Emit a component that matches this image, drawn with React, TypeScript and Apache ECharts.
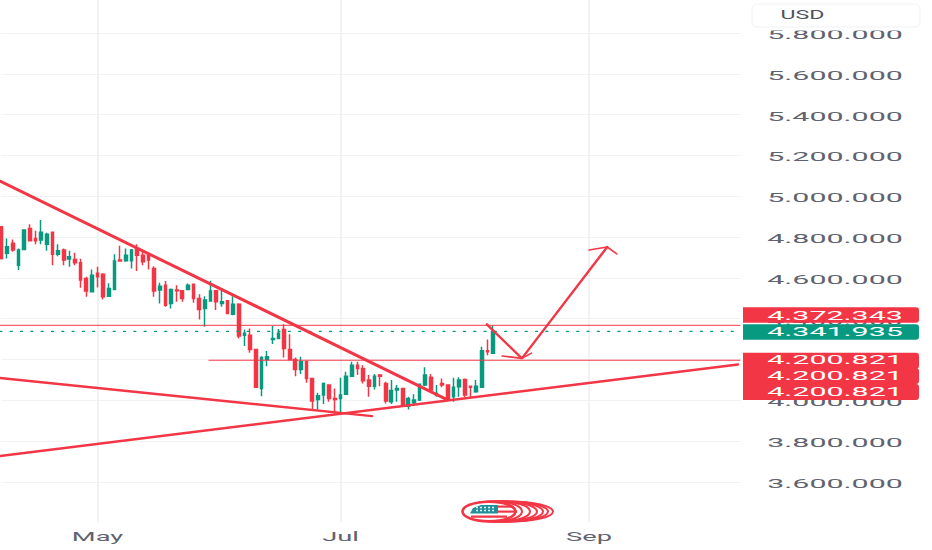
import React, { useEffect, useRef } from "react";
import * as echarts from "echarts";

const opens = [4850,4720,4769,4662,4739,4842,4793,4785,4765,4823,4715,4736,4692,4690,4674,4597,4532,4622,4618,4510,4543,4687,4684,4684,4744,4711,4711,4646,4540,4564,4474,4540,4537,4543,4568,4499,4450,4486,4537,4474,4488,4422,4471,4319,4319,4249,4058,4200,4298,4303,4347,4249,4200,4151,4189,4107,4004,4025,4074,4009,4009,4029,4118,4172,4156,4099,4069,4123,4082,3993,4050,4058,3971,3988,4001,4074,4112,4025,4082,4074,4017,4066,4102,4069,4042,4063,4243,4230];
const closes = [4695,4752,4736,4736,4834,4782,4782,4823,4814,4715,4733,4687,4703,4674,4589,4535,4613,4605,4507,4548,4682,4682,4711,4736,4711,4679,4687,4535,4559,4466,4543,4537,4499,4564,4499,4445,4491,4535,4483,4483,4425,4471,4315,4328,4249,4063,4210,4213,4303,4328,4254,4200,4151,4189,4107,3996,4022,4082,4009,4004,4025,4118,4172,4156,4095,4069,4118,4118,3996,4047,4058,3971,4009,4001,4078,4123,4050,4033,4074,4004,4063,4099,4025,4063,4069,4243,4238,4337];
const lows = [4690,4695,4728,4638,4739,4782,4765,4765,4733,4662,4706,4662,4654,4662,4551,4507,4532,4553,4494,4507,4540,4679,4679,4646,4633,4662,4641,4507,4474,4458,4450,4483,4483,4543,4478,4396,4360,4483,4442,4458,4422,4417,4303,4266,4233,4063,4020,4167,4275,4300,4210,4197,4118,4128,4086,3952,3955,3981,3993,3935,3935,4025,4118,4123,4082,4017,4053,4069,3984,3981,3993,3968,3955,3976,3996,4069,4042,4017,4063,4001,3993,4017,4014,4014,4037,4063,4221,4226];
const highs = [4850,4793,4788,4744,4837,4863,4831,4883,4821,4826,4764,4744,4733,4723,4693,4605,4641,4654,4622,4573,4716,4757,4744,4741,4765,4728,4720,4657,4576,4584,4548,4564,4540,4572,4572,4520,4510,4586,4540,4537,4491,4510,4475,4347,4352,4249,4216,4241,4364,4349,4373,4323,4210,4213,4192,4110,4037,4087,4078,4058,4110,4140,4189,4189,4172,4123,4128,4128,4091,4099,4074,4058,4017,4029,4082,4161,4128,4074,4107,4074,4110,4112,4107,4071,4099,4262,4298,4367];

const barCount = 132;
const categories = Array.from({ length: barCount }, (_, i) => String(i));
const monthIndexes = [17, 60, 104];
const monthLabels = ["May", "Jul", "Sep"];
const priceTicks = [5800, 5600, 5400, 5200, 5000, 4800, 4600, 4400, 4200, 4000, 3800, 3600];

const resistanceLine = [[-0.27, 5074], [78.85, 4003]];
const supportLine = [[-0.27, 3726], [130.35, 4175]];
const lowerLine = [[-0.27, 4109], [65.6, 3922]];
const levelLine = [[36.7, 4196], [130.7, 4196]];
const highLine = [[-0.27, 4367], [130.7, 4367]];
const lastLine = [[-0.27, 4337], [130.7, 4337]];
const arrowPath = [[85.9, 4372], [92.1, 4205], [107.2, 4751]];
const arrowHeadLow = [[88.6, 4217], [92.1, 4205], [93.8, 4231]];
const arrowHeadHigh = [[104, 4736], [107.2, 4751], [108.9, 4717]];

const redBoxes = ["4.372.343", "4.200.821", "4.200.821", "4.200.821"];
const greenBox = "4.341.935";
const RED = "#f23645";
const GREEN = "#089981";

const fmt = (v: number) => {
  const s = String(v);
  return `${s[0]}.${s.slice(1)}.000`;
};

const lineSeries = (data: number[][], width: number, color = RED, type: any = "solid", opacity = 1) => ({
  type: "line",
  xAxisIndex: 1,
  yAxisIndex: 0,
  data,
  symbol: "none",
  clip: false,
  silent: true,
  z: 5,
  lineStyle: { color, width, type, opacity, cap: "round" },
});

export default function App() {
  const ref = useRef<HTMLDivElement>(null);
  useEffect(() => {
    document.body.style.margin = "0";
    const chart = echarts.init(ref.current!, undefined, { renderer: "svg" });
    chart.setOption({
      animation: false,
      backgroundColor: "#ffffff",
      grid: { left: 1.5, top: 0, width: 740.15, height: 522.6 },
      xAxis: [
        {
          type: "category",
          data: categories,
          boundaryGap: false,
          axisLine: { show: false },
          axisTick: { show: false },
          axisLabel: { show: false },
          splitLine: {
            show: true,
            interval: (i: number) => monthIndexes.includes(i),
            lineStyle: { color: "#eeeff2", width: 1.6 },
          },
        },
        { type: "value", min: 0, max: 131, show: false },
      ],
      yAxis: {
        type: "value",
        min: 3400,
        max: 5962,
        interval: 200,
        axisLine: { show: false },
        axisTick: { show: false },
        axisLabel: { show: false },
        splitLine: { show: true, showMinLine: false, showMaxLine: false, lineStyle: { color: "#f1f2f5", width: 1 } },
      },
      series: [
        {
          type: "candlestick",
          xAxisIndex: 0,
          yAxisIndex: 0,
          barWidth: 3.2,
          data: opens.map((o, i) => [o, closes[i], lows[i], highs[i]]),
          itemStyle: { color: GREEN, color0: RED, borderColor: GREEN, borderColor0: RED, borderWidth: 1.5 },
          z: 3,
        },
        lineSeries(highLine, 1.2, RED, "solid", 0.8),
        lineSeries(lastLine, 1.2, GREEN, [2, 8.3]),
        lineSeries(levelLine, 1),
        lineSeries(resistanceLine, 3),
        lineSeries(supportLine, 2.5),
        lineSeries(lowerLine, 2.4),
        lineSeries(arrowPath, 2.4),
        lineSeries(arrowHeadLow, 1.6),
        lineSeries(arrowHeadHigh, 1.6),
      ],
    });

    const yOf = (v: number) => chart.convertToPixel({ yAxisIndex: 0 }, v) as number;
    const xOf = (i: number) => chart.convertToPixel({ xAxisIndex: 0 }, i) as number;
    const labelFont = "Roboto, sans-serif";
    const stretched = (text: string, x: number, y: number, fill: string, z: number, scaleX = 2.34) => ({
      type: "text",
      x,
      y,
      scaleX,
      z,
      silent: true,
      style: { text, fill, fontFamily: labelFont, fontSize: 13, textAlign: "center", textVerticalAlign: "middle" },
    });
    const box = (y: number, h: number, fill: string) => ({
      type: "rect",
      z: 11,
      silent: true,
      shape: { x: 743, y, width: 176, height: h, r: [0, 3, 3, 0] },
      style: { fill },
    });
    const ellipse = (cx: number, rx: number, ry: number, lw: number) => ({
      type: "ellipse",
      z: 6,
      silent: true,
      shape: { cx, cy: 511.5, rx, ry },
      style: { fill: "#ffffff", stroke: RED, lineWidth: lw },
    });
    const stripe = (x: number, y: number, width: number, height: number, fill = RED) => ({
      type: "rect",
      z: 7,
      silent: true,
      shape: { x, y, width, height },
      style: { fill },
    });
    const starRows = [507.5, 510.5];
    const starCols = [477, 481, 485, 489, 493];

    chart.setOption({
      graphic: [
        { type: "rect", z: 4, silent: true, shape: { x: 741, y: 0, width: 191, height: 550 }, style: { fill: "#ffffff" } },
        { type: "rect", z: 11, silent: true, shape: { x: 752, y: 4, width: 168, height: 26.5 }, style: { fill: "#ffffff" } },
        {
          type: "rect",
          z: 12,
          silent: true,
          shape: { x: 752, y: 4, width: 168, height: 23, r: 5 },
          style: { fill: "#ffffff", stroke: "#f0f1f3", lineWidth: 1 },
        },
        {
          type: "text",
          x: 802.5,
          y: 15,
          scaleX: 1.78,
          z: 13,
          silent: true,
          style: { text: "USD", fill: "#50535e", fontFamily: labelFont, fontSize: 13, textAlign: "center", textVerticalAlign: "middle" },
        },
        ...priceTicks.map((v) => stretched(fmt(v), 835, yOf(v) + 1.5, "#60636e", 10)),
        ...monthIndexes.map((i, k) => stretched(monthLabels[k], xOf(i), 536, "#60636e", 10, 2.1)),
        box(307.3, 15.4, RED),
        box(324.3, 15.4, GREEN),
        box(352.7, 16, RED),
        box(368, 16, RED),
        box(384, 16, RED),
        stretched(redBoxes[0], 835, 315.3, "#ffffff", 12),
        stretched(greenBox, 835, 331.3, "#ffffff", 12),
        stretched(redBoxes[1], 835, 360, "#ffffff", 12),
        stretched(redBoxes[2], 835, 375.7, "#ffffff", 12),
        stretched(redBoxes[3], 835, 391.7, "#ffffff", 12),
        // watermark logo
        ellipse(509.5, 43.5, 10, 2),
        ellipse(507, 41, 10, 2),
        ellipse(504.5, 38.5, 10, 2),
        ellipse(501.5, 35.5, 10, 2),
        ellipse(498, 32, 10.2, 2),
        ellipse(494, 28, 10.2, 2),
        ellipse(489, 26.5, 9.8, 2.6),
        stripe(497, 505.5, 16, 2.2),
        stripe(497, 510.5, 20, 2.2),
        stripe(471, 515.5, 36, 2.2),
        {
          type: "polygon",
          z: 7,
          silent: true,
          shape: { points: [[470, 513.5], [473, 508], [481, 505], [498, 505], [498, 513.5]] },
          style: { fill: "#1f8f9a" },
        },
        ...starRows.flatMap((y) => starCols.map((x) => ({
          type: "circle",
          z: 8,
          silent: true,
          shape: { cx: x, cy: y, r: 0.9 },
          style: { fill: "#ffffff" },
        }))),
      ],
    });
    return () => chart.dispose();
  }, []);
  return <div ref={ref} style={{ width: 932, height: 550 }} />;
}
